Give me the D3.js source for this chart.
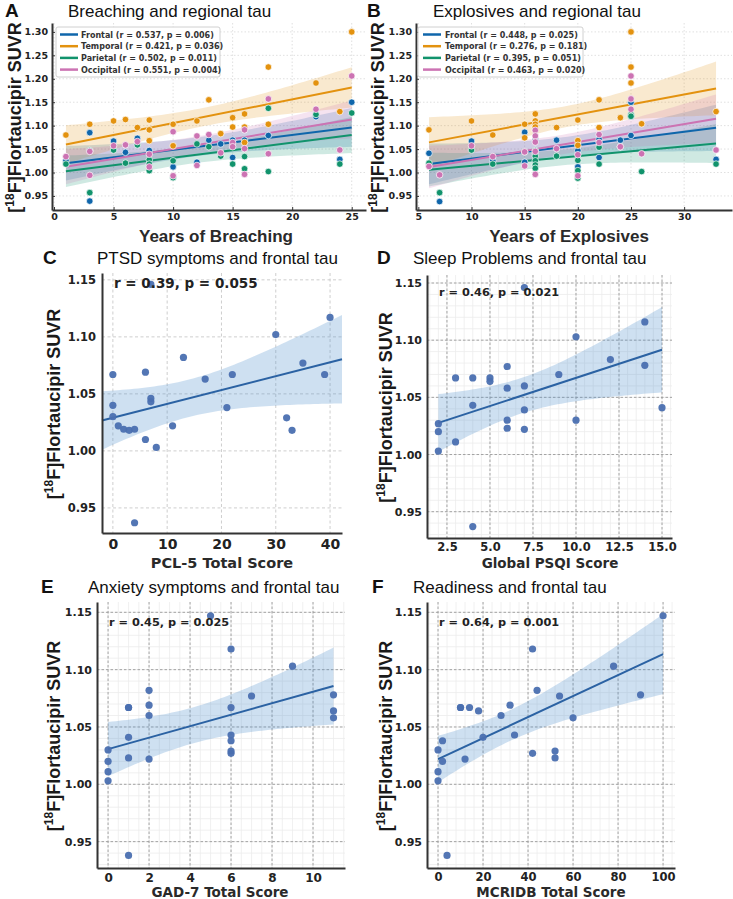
<!DOCTYPE html>
<html>
<head>
<meta charset="utf-8">
<script src="https://cdn.jsdelivr.net/npm/d3@7"></script>
<style>
  body { margin: 0; background: #fff; }
  svg { display: block; font-family: "Liberation Sans", Arial, sans-serif; }
  .tick text { font-family: "DejaVu Sans", sans-serif; font-weight: bold; fill: #222; }
</style>
</head>
<body>
<div id="chart"></div>
<script>
// ---------- data ----------
const regionNames = ['Frontal', 'Temporal', 'Parietal', 'Occipital'];
const regionColors = ['#0f66ab', '#e3920f', '#11936c', '#cc73b3'];
const breachStats = ['(r = 0.537,  p = 0.006)', '(r = 0.421,  p = 0.036)', '(r = 0.502,  p = 0.011)', '(r = 0.551,  p = 0.004)'];
const explStats = ['(r = 0.448,  p = 0.025)', '(r = 0.276,  p = 0.181)', '(r = 0.395,  p = 0.051)', '(r = 0.463,  p = 0.020)'];

// years of breaching vs regional SUVR
const breachFrontal = [[1,1.025],[3,1.085],[3,0.939],[5,1.067],[6,1.043],[7,1.073],[8,1.047],[10,1.012],[12,1.022],[13,1.069],[14,1.061],[15,1.069],[15,1.032],[16,1.069],[18,1.079],[22,1.119],[24,1.028],[25,1.150]];
const breachTemporal = [[1,1.080],[3,1.103],[5,1.110],[6,1.113],[7,1.096],[8,1.112],[8,1.091],[8,1.068],[10,1.103],[10,1.057],[12,1.110],[13,1.155],[14,1.083],[15,1.117],[15,1.097],[16,1.125],[16,1.097],[16,1.064],[18,1.225],[18,1.103],[22,1.191],[24,1.130],[25,1.300]];
const breachParietal = [[1,1.018],[3,1.047],[3,0.957],[5,1.048],[6,1.020],[7,1.059],[8,1.027],[8,1.018],[8,1.004],[10,1.025],[10,0.989],[12,1.061],[13,1.055],[14,1.035],[15,1.018],[16,1.034],[16,1.008],[18,1.137],[18,1.002],[22,1.124],[24,1.018],[25,1.127]];
const breachOccipital = [[1,1.034],[3,1.045],[3,0.994],[5,1.057],[6,1.059],[7,1.066],[8,1.039],[8,1.012],[10,1.087],[10,0.993],[12,1.078],[12,1.015],[13,1.081],[14,1.042],[15,1.064],[15,1.055],[16,1.091],[16,1.051],[16,0.996],[18,1.157],[18,1.040],[22,1.135],[24,1.048],[25,1.206]];

// years of explosives vs regional SUVR
const explFrontal = [[6,1.041],[7,0.938],[10,1.067],[12,1.025],[15,1.086],[15,1.022],[16,1.069],[16,1.040],[18,1.069],[20,1.047],[20,1.012],[22,1.071],[22,1.032],[24,1.069],[25,1.150],[25,1.119],[25,1.079],[33,1.028]];
const explTemporal = [[6,1.091],[10,1.110],[12,1.080],[15,1.103],[15,1.074],[16,1.125],[16,1.110],[16,1.103],[16,1.097],[16,1.089],[18,1.096],[20,1.112],[20,1.068],[20,1.058],[22,1.155],[22,1.096],[24,1.117],[25,1.300],[25,1.225],[25,1.191],[26,1.104],[33,1.130]];
const explParietal = [[6,1.020],[7,0.957],[10,1.048],[12,1.018],[15,1.044],[16,1.047],[16,1.035],[16,1.025],[16,1.016],[16,1.009],[18,1.035],[20,1.026],[20,1.004],[20,0.988],[22,1.054],[22,1.018],[24,1.055],[25,1.124],[25,1.120],[26,1.002],[33,1.018]];
const explOccipital = [[6,1.013],[7,0.995],[10,1.057],[12,1.034],[15,1.044],[15,1.014],[16,1.090],[16,1.078],[16,1.065],[16,1.045],[16,0.996],[18,1.051],[20,1.038],[20,0.993],[22,1.081],[22,1.064],[24,1.055],[25,1.206],[25,1.157],[25,1.135],[26,1.040],[33,1.048]];

// clinical scores vs frontal SUVR
const pclScore = [0,0,0,1,2,3,4,4,6,6,7,7,7,8,11,13,17,21,22,30,32,33,35,39,40];
const pclSuvr = [1.067,1.040,1.030,1.022,1.019,1.018,1.019,0.937,1.010,1.069,1.046,1.043,1.146,1.003,1.022,1.082,1.063,1.038,1.067,1.102,1.029,1.018,1.077,1.067,1.117];
const psqiScore = [2,2,2,3,3,4,4,4,5,5,6,6,6,6,7,7,7,7,9,10,10,12,14,14,15];
const psqiSuvr = [1.027,1.020,1.003,1.067,1.011,1.067,1.043,0.937,1.067,1.064,1.077,1.058,1.030,1.023,1.060,1.039,1.022,1.146,1.070,1.103,1.030,1.083,1.116,1.078,1.041];
const gadScore = [0,0,0,0,1,1,1,1,1,2,2,2,2,5,6,6,6,6,6,6,7,9,11,11,11];
const gadSuvr = [1.030,1.020,1.011,1.003,1.067,1.067,1.041,1.023,0.938,1.082,1.069,1.060,1.022,1.147,1.118,1.067,1.043,1.038,1.029,1.027,1.077,1.103,1.078,1.064,1.058];
const mcridbScore = [0,0,0,2,2,4,10,10,12,14,18,20,28,32,34,42,42,44,52,52,54,60,78,90,100];
const mcridbSuvr = [1.030,1.011,1.003,1.038,1.020,0.938,1.067,1.067,1.022,1.067,1.064,1.041,1.060,1.069,1.043,1.118,1.027,1.082,1.029,1.023,1.077,1.058,1.103,1.078,1.147];

const suvrTicks = [0.95, 1.00, 1.05, 1.10, 1.15];
const regionalTicks = [0.95, 1.00, 1.05, 1.10, 1.15, 1.20, 1.25, 1.30];

// ---------- helpers ----------
const svg = d3.select('#chart').append('svg').attr('width', 733).attr('height', 899);

const tCrit = df => 1.96 + 2.4 / df + 3 / (df * df);

function fit(pts) {
  const n = pts.length;
  const mx = d3.mean(pts, d => d[0]), my = d3.mean(pts, d => d[1]);
  const sxx = d3.sum(pts, d => (d[0] - mx) ** 2);
  const b = d3.sum(pts, d => (d[0] - mx) * (d[1] - my)) / sxx;
  const a = my - b * mx;
  const s = Math.sqrt(d3.sum(pts, d => (d[1] - a - b * d[0]) ** 2) / (n - 2));
  const t = tCrit(n - 2);
  return { f: x => a + b * x, ci: x => t * s * Math.sqrt(1 / n + (x - mx) ** 2 / sxx) };
}

function ylabel(x, y) {
  const t = svg.append('text')
    .attr('transform', `translate(${x},${y}) rotate(-90)`)
    .attr('text-anchor', 'middle')
    .style('font-size', '18px').style('font-weight', 'bold').attr('fill', '#1a1a1a');
  t.append('tspan').text('[');
  t.append('tspan').attr('dy', -7).style('font-size', '12px').text('18');
  t.append('tspan').attr('dy', 7).text('F]Flortaucipir SUVR');
}

function panel(c) {
  const x = d3.scaleLinear().domain(c.xDomain).range([c.left, c.right]);
  const y = d3.scaleLinear().domain(c.yDomain).range([c.bottom, c.top]);
  const g = svg.append('g');

  // grid
  if (c.minorX) {
    g.selectAll('.mx').data(c.minorX).enter().append('line')
      .attr('x1', d => x(d)).attr('x2', d => x(d)).attr('y1', c.top).attr('y2', c.bottom)
      .attr('stroke', '#ececec').attr('stroke-width', 0.8);
    g.selectAll('.my').data(c.minorY).enter().append('line')
      .attr('y1', d => y(d)).attr('y2', d => y(d)).attr('x1', c.left).attr('x2', c.right)
      .attr('stroke', '#ececec').attr('stroke-width', 0.8);
  }
  g.selectAll('.gx').data(c.xTicks).enter().append('line')
    .attr('x1', d => x(d)).attr('x2', d => x(d)).attr('y1', c.top).attr('y2', c.bottom)
    .attr('stroke', c.gridColor).attr('stroke-width', 0.9).attr('stroke-dasharray', c.gridDash);
  g.selectAll('.gy').data(c.yTicks).enter().append('line')
    .attr('y1', d => y(d)).attr('y2', d => y(d)).attr('x1', c.left).attr('x2', c.right)
    .attr('stroke', c.gridColor).attr('stroke-width', 0.9).attr('stroke-dasharray', c.gridDash);

  // bands and lines
  c.series.forEach(s => {
    const m = fit(s.pts);
    const ext = c.fullLine ? x.domain() : d3.extent(s.pts, d => d[0]);
    const xs = d3.range(0, 61).map(i => ext[0] + (ext[1] - ext[0]) * i / 60);
    g.append('path').datum(xs)
      .attr('d', d3.area().x(d => x(d)).y0(d => y(m.f(d) - m.ci(d))).y1(d => y(m.f(d) + m.ci(d))))
      .attr('fill', s.band).attr('fill-opacity', s.bandOpacity);
    s.model = m; s.ext = ext;
  });
  c.series.forEach(s => {
    g.append('line')
      .attr('x1', x(s.ext[0])).attr('x2', x(s.ext[1]))
      .attr('y1', y(s.model.f(s.ext[0]))).attr('y2', y(s.model.f(s.ext[1])))
      .attr('stroke', s.line).attr('stroke-width', 2);
  });
  c.series.forEach(s => {
    g.selectAll(null).data(s.pts).enter().append('circle')
      .attr('cx', d => x(d[0])).attr('cy', d => y(d[1])).attr('r', c.r)
      .attr('fill', s.dot).attr('fill-opacity', s.dotOpacity || 1)
      .attr('stroke', c.dotStroke || 'none').attr('stroke-width', 0.7);
  });

  // axes
  const ax = g.append('g').attr('transform', `translate(0,${c.bottom})`)
    .call(d3.axisBottom(x).tickValues(c.xTicks).tickFormat(c.xFmt).tickSizeInner(c.tick).tickSizeOuter(0).tickPadding(c.xPad));
  const ay = g.append('g').attr('transform', `translate(${c.left},0)`)
    .call(d3.axisLeft(y).tickValues(c.yTicks).tickFormat(d3.format('.2f')).tickSizeInner(c.tick).tickSizeOuter(0).tickPadding(c.yPad));
  [ax, ay].forEach(a => {
    a.select('.domain').attr('stroke', '#333').attr('stroke-width', 2);
    a.selectAll('.tick line').attr('stroke', '#333');
  });
  ax.selectAll('.tick text').style('font-size', c.xFont + 'px');
  ay.selectAll('.tick text').style('font-size', c.yFont + 'px');

  // titles
  svg.append('text').attr('x', c.letterX).attr('y', c.titleY).text(c.letter)
    .style('font-size', '19px').style('font-weight', 'bold').attr('fill', '#111');
  svg.append('text').attr('x', c.titleX).attr('y', c.titleY).text(c.title)
    .style('font-size', '17px').attr('fill', '#111');
  svg.append('text').attr('x', c.xlabX).attr('y', c.xlabY).attr('text-anchor', 'middle').text(c.xlabel)
    .style('font-size', c.xlabSize + 'px').style('font-weight', 'bold').attr('fill', '#2a2a2a')
    .style('font-family', c.xlabFamily);
  ylabel(c.ylabX, (c.top + c.bottom) / 2 + 1);

  if (c.annot) {
    svg.append('text').attr('x', c.annotX).attr('y', c.annotY).text(c.annot)
      .style('font-family', '"DejaVu Sans"').style('font-weight', 'bold').style('font-size', c.annotSize + 'px').attr('fill', '#222');
  }
  if (c.legend) {
    const lg = svg.append('g').attr('transform', `translate(${c.legend.x},${c.legend.y})`);
    lg.append('rect').attr('width', c.legend.w).attr('height', 50).attr('rx', 2)
      .attr('fill', '#fff').attr('fill-opacity', 0.85).attr('stroke', '#d0d0d0');
    regionNames.forEach((n, i) => {
      const yy = 7.5 + i * 11.7;
      lg.append('line').attr('x1', c.legend.lx).attr('x2', c.legend.lx + 18).attr('y1', yy).attr('y2', yy)
        .attr('stroke', regionColors[i]).attr('stroke-width', 2.5);
      lg.append('text').attr('x', c.legend.tx).attr('y', yy + 3).text(`${n} ${c.legend.stats[i]}`)
        .style('font-family', '"DejaVu Sans"').style('font-weight', 'bold').style('font-size', '8px').attr('fill', '#333');
    });
  }
}

function regional(data) {
  return data.map((pts, i) => ({ pts, line: regionColors[i], band: regionColors[i], bandOpacity: 0.2, dot: regionColors[i] }));
}
function frontal(xs, ys) {
  return [{ pts: xs.map((v, i) => [v, ys[i]]), line: '#2b62a3', band: '#4f8fcb', bandOpacity: 0.28, dot: '#4a6fb0', dotOpacity: 0.95 }];
}

const common = { tick: -3, xPad: 3, yPad: 4, xFont: 9.5, yFont: 9.5, r: 3.3, dotStroke: '#fff',
  gridColor: '#dcdcdc', gridDash: '1.5,2', xlabSize: 17, xlabFamily: '"Liberation Sans", Arial', titleY: 17,
  yDomain: [0.920, 1.319], yTicks: regionalTicks, top: 23, bottom: 210, xFmt: d3.format('d') };

panel(Object.assign({}, common, {
  left: 52, right: 366, xDomain: [-0.17, 26.2], xTicks: [0, 5, 10, 15, 20, 25],
  series: regional([breachFrontal, breachTemporal, breachParietal, breachOccipital]),
  letter: 'A', letterX: 5, title: 'Breaching and regional tau', titleX: 68,
  xlabel: 'Years of Breaching', xlabX: 216, xlabY: 242, ylabX: 21,
  legend: { x: 56, y: 27, w: 164, lx: 4, tx: 25, stats: breachStats }
}));
panel(Object.assign({}, common, {
  left: 416, right: 732, xDomain: [4.78, 34.5], xTicks: [5, 10, 15, 20, 25, 30],
  series: regional([explFrontal, explTemporal, explParietal, explOccipital]),
  letter: 'B', letterX: 367, title: 'Explosives and regional tau', titleX: 433,
  xlabel: 'Years of Explosives', xlabX: 569, xlabY: 242, ylabX: 384,
  legend: { x: 418, y: 27, w: 165, lx: 5, tx: 27, stats: explStats }
}));

const lower = { tick: 0, xPad: 6, yPad: 6, r: 3.6, xlabFamily: '"DejaVu Sans"', xFmt: d3.format('d'), yTicks: suvrTicks };

panel(Object.assign({}, lower, {
  left: 102, right: 342, top: 273, bottom: 533, xDomain: [-2, 42.2], yDomain: [0.928, 1.156],
  xTicks: [0, 10, 20, 30, 40], xFont: 14, yFont: 11.5, gridColor: '#c8c8c8', gridDash: '3,2.5', fullLine: true,
  series: frontal(pclScore, pclSuvr),
  letter: 'C', letterX: 43, titleX: 97, titleY: 264, title: 'PTSD symptoms and frontal tau',
  xlabel: 'PCL-5 Total Score', xlabX: 222, xlabY: 568, xlabSize: 14.5, ylabX: 60,
  annot: 'r = 0.39, p = 0.055', annotX: 114, annotY: 288, annotSize: 13.5
}));
panel(Object.assign({}, lower, {
  left: 427, right: 672, top: 275, bottom: 538, xDomain: [1.34, 15.58], yDomain: [0.927, 1.157],
  xTicks: [2.5, 5, 7.5, 10, 12.5, 15], xFmt: d3.format('.1f'), xFont: 11.5, yFont: 11, xPad: 5, yPad: 5,
  gridColor: '#9a9a9a', gridDash: '2.5,2',
  minorX: d3.range(1.5, 15.6, 0.5), minorY: d3.range(0.93, 1.156, 0.01),
  series: frontal(psqiScore, psqiSuvr),
  letter: 'D', letterX: 377, titleX: 413, titleY: 264, title: 'Sleep Problems and frontal tau',
  xlabel: 'Global PSQI Score', xlabX: 550, xlabY: 568, xlabSize: 13.5, ylabX: 392,
  annot: 'r = 0.46, p = 0.021', annotX: 439, annotY: 296, annotSize: 11.3
}));
panel(Object.assign({}, lower, {
  left: 97, right: 345, top: 602, bottom: 868, xDomain: [-0.54, 11.56], yDomain: [0.927, 1.159],
  xTicks: [0, 2, 4, 6, 8, 10], xFont: 12, yFont: 11, xPad: 5, yPad: 5,
  gridColor: '#9a9a9a', gridDash: '2.5,2',
  minorX: d3.range(-0.5, 11.6, 0.5), minorY: d3.range(0.93, 1.159, 0.01),
  series: frontal(gadScore, gadSuvr),
  letter: 'E', letterX: 41, titleX: 88, titleY: 593, title: 'Anxiety symptoms and frontal tau',
  xlabel: 'GAD-7 Total Score', xlabX: 220, xlabY: 897, xlabSize: 13.5, ylabX: 60,
  annot: 'r = 0.45, p = 0.025', annotX: 109, annotY: 626, annotSize: 11.3
}));
panel(Object.assign({}, lower, {
  left: 427, right: 675, top: 602, bottom: 868, xDomain: [-4.9, 105.3], yDomain: [0.927, 1.159],
  xTicks: [0, 20, 40, 60, 80, 100], xFont: 11.5, yFont: 11, xPad: 5, yPad: 5,
  gridColor: '#9a9a9a', gridDash: '2.5,2',
  minorX: d3.range(-4, 105, 4), minorY: d3.range(0.93, 1.159, 0.01),
  series: frontal(mcridbScore, mcridbSuvr),
  letter: 'F', letterX: 372, titleX: 413, titleY: 593, title: 'Readiness and frontal tau',
  xlabel: 'MCRIDB Total Score', xlabX: 551, xlabY: 897, xlabSize: 13.5, ylabX: 392,
  annot: 'r = 0.64, p = 0.001', annotX: 439, annotY: 626, annotSize: 11.3
}));
</script>
</body>
</html>
